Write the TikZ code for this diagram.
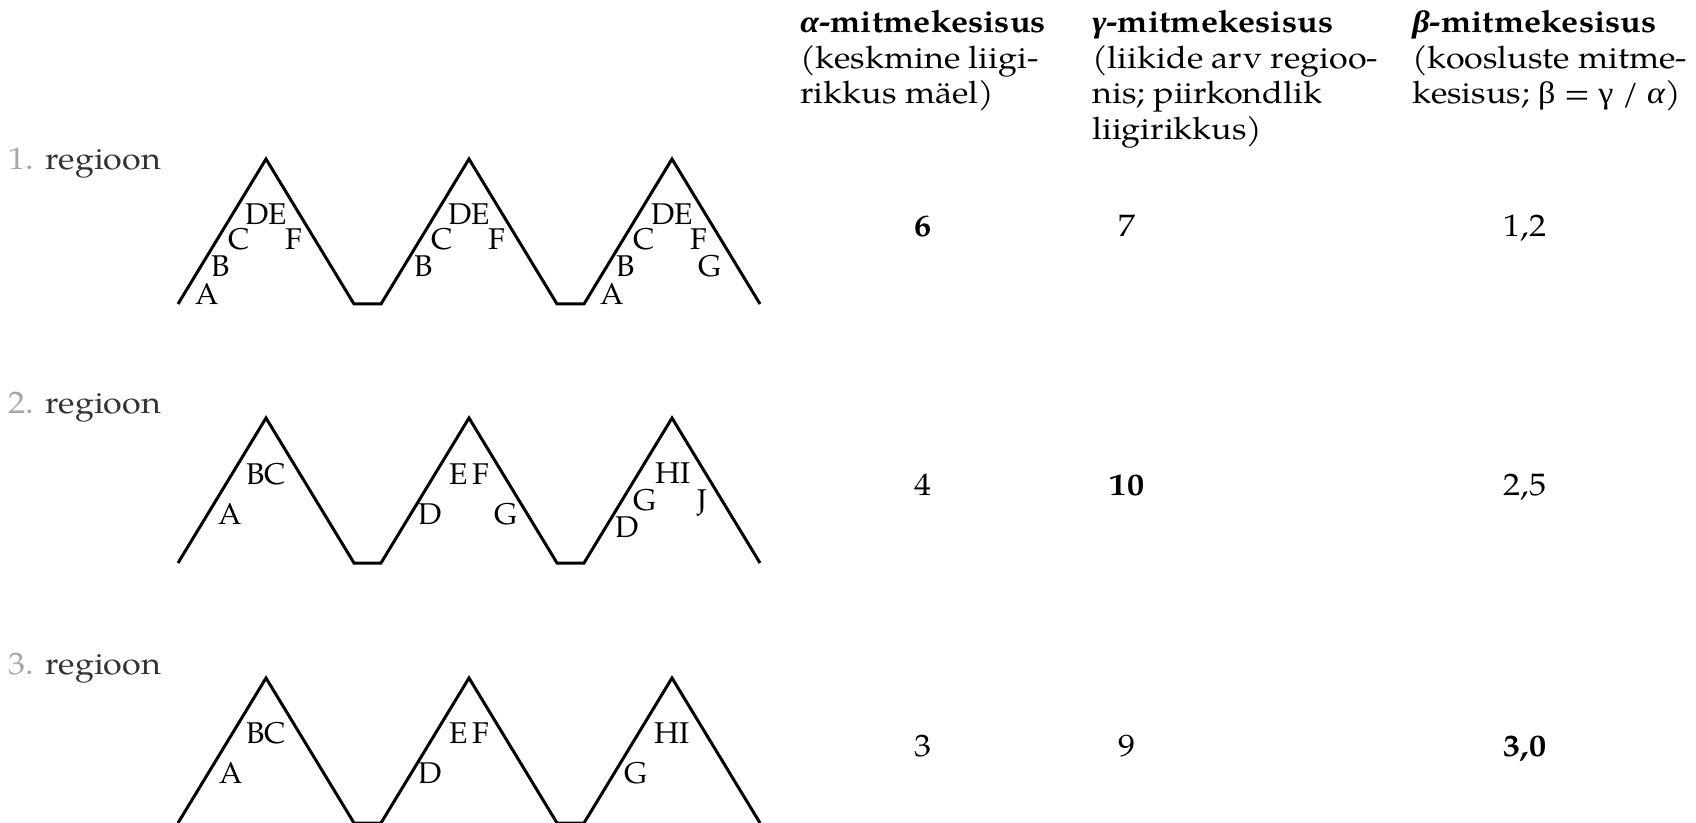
\documentclass[tikz,border=0pt]{standalone}
\usepackage{fontspec}
\setmainfont{texgyrepagella}[Extension=.otf, UprightFont=*-regular, BoldFont=*-bold, ItalicFont=*-italic, BoldItalicFont=*-bolditalic]
\newfontfamily\txtfont{texgyrepagella}[Extension=.otf, UprightFont=*-regular, BoldFont=*-bold, ItalicFont=*-italic, BoldItalicFont=*-bolditalic, FakeStretch=1.1]
\newfontfamily\grk{Liberation Serif}[FakeStretch=1.1]
\begin{document}
\begin{tikzpicture}[x=0.5pt,y=-0.5pt,
  mtn/.style={line width=1.5pt, line join=miter},
  lbl/.style={font=\fontsize{15}{18}\selectfont, inner sep=0pt, anchor=base},
  hdr/.style={font=\txtfont\fontsize{15.5}{18}\selectfont, inner sep=0pt, anchor=base west},
  num/.style={font=\txtfont\fontsize{15.5}{18}\selectfont, inner sep=0pt, anchor=base},
  reg/.style={font=\txtfont\fontsize{15.5}{18}\selectfont, inner sep=0pt, anchor=base west, text=black!80}]
\useasboundingbox (0,0) rectangle (1696,823);
% mountains
\foreach \yp in {159,418,678}{
  \draw[mtn] (178,\yp+145) -- (266,\yp) -- (354,\yp+145) -- (381,\yp+145)
     -- (469,\yp) -- (557,\yp+145) -- (584,\yp+145) -- (672,\yp) -- (760,\yp+145);
}
% row labels
\node[reg] (reg1) at (8,170) {{\color{black!35}1.} regioon};
\node[reg] (reg2) at (8,414) {{\color{black!35}2.} regioon};
\node[reg] (reg3) at (8,674) {{\color{black!35}3.} regioon};
% row 1 letters
\node[lbl] (r1aA) at (207,305) {A};
\node[lbl] (r1aB) at (221,277) {B};
\node[lbl] (r1aC) at (239,250) {C};
\node[lbl] (r1aD) at (266,225) {DE};
\node[lbl] (r1aF) at (294,250) {F};
\node[lbl] (r1bB) at (424,277) {B};
\node[lbl] (r1bC) at (442,250) {C};
\node[lbl] (r1bD) at (469,225) {DE};
\node[lbl] (r1bF) at (497,250) {F};
\node[lbl] (r1cA) at (612,305) {A};
\node[lbl] (r1cB) at (626,277) {B};
\node[lbl] (r1cC) at (644,250) {C};
\node[lbl] (r1cD) at (672,225) {DE};
\node[lbl] (r1cF) at (699,250) {F};
\node[lbl] (r1cG) at (710,277) {G};
% row 2 letters
\node[lbl] (r2aB) at (266,484) {BC};
\node[lbl] (r2aA) at (230,524) {A};
\node[lbl] (r2bE) at (469,484) {E\,F};
\node[lbl] (r2bD) at (430,524) {D};
\node[lbl] (r2bG) at (506,524) {G};
\node[lbl] (r2cH) at (673,483) {HI};
\node[lbl] (r2cG) at (645,510) {G};
\node[lbl] (r2cD) at (627,537) {D};
\node[lbl] (r2cJ) at (702,510) {J};
% row 3 letters
\node[lbl] (r3aB) at (266,743) {BC};
\node[lbl] (r3aA) at (231,783) {A};
\node[lbl] (r3bE) at (469,743) {E\,F};
\node[lbl] (r3bD) at (430,783) {D};
\node[lbl] (r3cH) at (672,743) {HI};
\node[lbl] (r3cG) at (636,783) {G};
% headers
\node[hdr] (h1a) at (800,33) {\textbf{{\grk\itshape α}-mitmekesisus}};
\node[hdr] (h1b) at (800,68.5) {(keskmine liigi-};
\node[hdr] (h1c) at (800,104) {rikkus mäel)};
\node[hdr] (h2a) at (1092,33) {\textbf{{\grk\itshape γ}-mitmekesisus}};
\node[hdr] (h2b) at (1092,68.5) {(liikide arv regioo-};
\node[hdr] (h2c) at (1092,104) {nis; piirkondlik};
\node[hdr] (h2d) at (1092,139.5) {liigirikkus)};
\node[hdr] (h3a) at (1412,33) {\textbf{{\grk\itshape β}-mitmekesisus}};
\node[hdr] (h3b) at (1412,68.5) {(koosluste mitme-};
\node[hdr] (h3c) at (1412,104) {kesisus; {\grk β} = {\grk γ} / {\grk\itshape α})};
% numbers
\node[num] (n11) at (923,237) {\textbf{6}};
\node[num] (n12) at (1127,237) {7};
\node[num] (n13) at (1525,237) {1,2};
\node[num] (n21) at (923,495) {4};
\node[num] (n22) at (1127,495) {\textbf{10}};
\node[num] (n23) at (1525,495) {2,5};
\node[num] (n31) at (923,756) {3};
\node[num] (n32) at (1127,756) {9};
\node[num] (n33) at (1525,756) {\textbf{3,0}};
\end{tikzpicture}
\end{document}
